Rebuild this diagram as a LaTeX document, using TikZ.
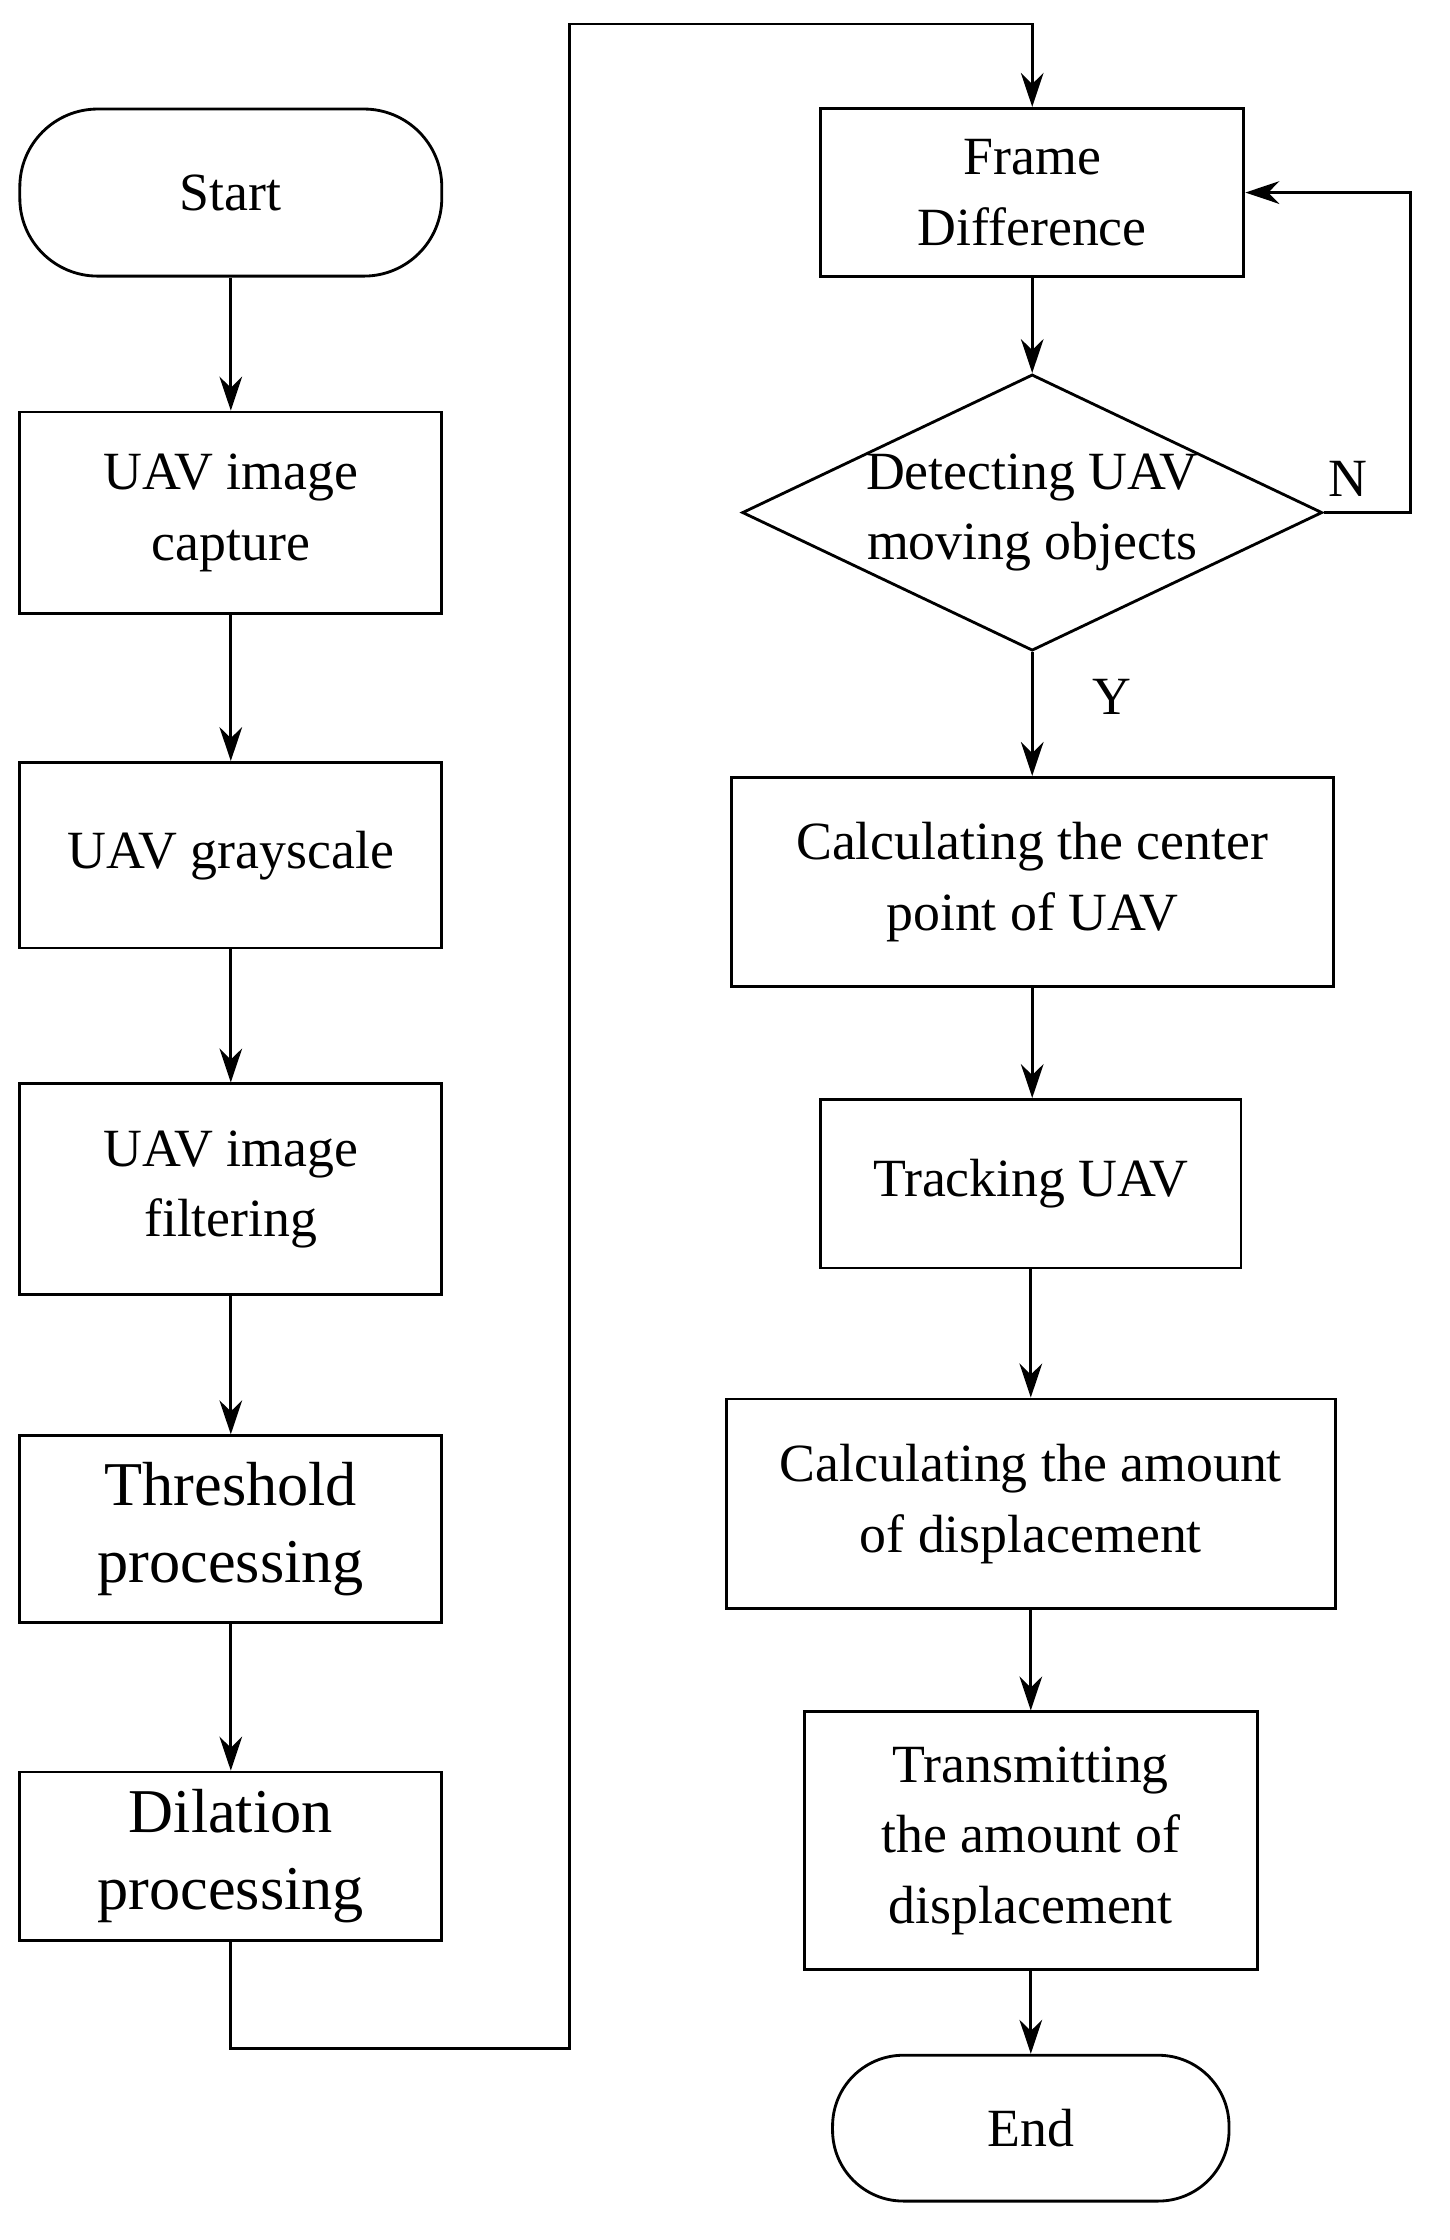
\documentclass[tikz,border=0pt]{standalone}
\usepackage{fontspec}
\setmainfont{Liberation Serif}
\usetikzlibrary{shapes.geometric,arrows.meta}
\begin{document}
\begin{tikzpicture}[x=1pt,y=-1pt,line width=2pt,
 box/.style={draw,rectangle,align=center,inner sep=0pt,font=\fontsize{38}{50}\selectfont},
 big/.style={font=\fontsize{44}{54}\selectfont},
 term/.style={draw,rounded corners=55pt,align=center,font=\fontsize{38}{50}\selectfont},
 arr/.style={-{Stealth[length=24pt,width=16pt]}},
 lab/.style={font=\fontsize{38}{46}\selectfont}]
\useasboundingbox (0,0) rectangle (1024,1582);
\node[term,minimum width=298pt,minimum height=118pt] (start) at (163,136) {Start};
\node[box,minimum width=298pt,minimum height=142pt] (cap) at (163,362) {UAV image\\capture};
\node[box,minimum width=298pt,minimum height=131pt] (gray) at (163,604) {UAV grayscale};
\node[box,minimum width=298pt,minimum height=149pt] (filt) at (163,840) {UAV image\\filtering};
\node[box,big,minimum width=298pt,minimum height=132pt] (thr) at (163,1080) {Threshold\\processing};
\node[box,big,minimum width=298pt,minimum height=119pt] (dil) at (163,1311) {Dilation\\processing};
\node[box,minimum width=299pt,minimum height=119pt] (fd) at (729,136) {Frame\\Difference};
\node[draw,diamond,aspect=2.1,minimum width=395pt,minimum height=188pt,inner sep=0pt,align=center,font=\fontsize{38}{50}\selectfont] (det) at (729,362) {Detecting UAV\\moving objects};
\node[box,minimum width=425pt,minimum height=148pt] (cc) at (729,623) {Calculating the center\\point of UAV};
\node[box,minimum width=297pt,minimum height=119pt] (tr) at (728,836) {Tracking UAV};
\node[box,minimum width=430pt,minimum height=148pt] (ca) at (728,1062) {Calculating the amount\\of displacement};
\node[box,minimum width=320pt,minimum height=182pt] (tx) at (728,1300) {Transmitting\\the amount of\\displacement};
\node[term,minimum width=280pt,minimum height=103pt,rounded corners=50pt] (end) at (728,1503) {End};
\draw[arr] (start) -- (cap);
\draw[arr] (cap) -- (gray);
\draw[arr] (gray) -- (filt);
\draw[arr] (filt) -- (thr);
\draw[arr] (thr) -- (dil);
\draw[arr] (dil.south) -- ++(0,75) -| (402,17) -| (fd.north);
\draw[arr] (fd) -- (det);
\draw[arr] (det.east) -| (996,136) -- (fd.east);
\draw[arr] (det.south) -- (cc.north);
\draw[arr] (cc.south) -- (cc.south|-tr.north);
\draw[arr] (tr) -- (ca);
\draw[arr] (ca) -- (tx);
\draw[arr] (tx) -- (end);
\node[lab] (n) at (952,338) {N};
\node[lab] (y) at (785,492) {Y};
\end{tikzpicture}
\end{document}
